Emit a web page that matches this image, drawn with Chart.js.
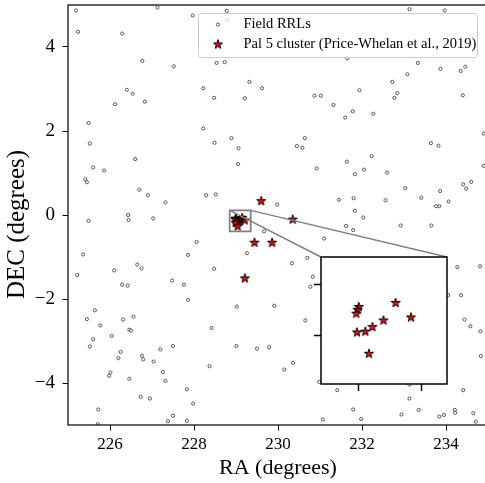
<!DOCTYPE html>
<html>
<head>
<meta charset="utf-8">
<script src="https://cdn.jsdelivr.net/npm/chart.js@4.4.1/dist/chart.umd.min.js"></script>
<style>
  html, body { margin: 0; padding: 0; background: #fff; overflow: hidden; }
  #wrap { position: relative; width: 488px; height: 483px; }
  #main { position: absolute; left: 0; top: 0; }
  #inset { position: absolute; left: 309px; top: 255px; }
</style>
</head>
<body>
<div id="wrap">
  <canvas id="main" width="488" height="483"></canvas>
  <canvas id="inset" width="140" height="141"></canvas>
</div>
<script>
// field RR Lyrae
const fieldRA = [
  225.19, 227.13, 225.24, 226.29, 226.77, 227.52, 226.40, 226.54, 226.12, 226.83, 225.49,
  227.97, 228.78, 228.79, 228.54, 228.73, 229.32, 228.22, 229.62, 228.48, 229.21, 230.87, 231.02, 231.32, 228.22, 228.89, 230.64,
  233.13, 233.97, 231.65, 233.33, 233.87, 234.35, 234.46, 233.08, 232.72, 231.94, 232.84, 232.77, 234.40, 231.78, 231.60, 232.27, 234.90,
  225.52, 226.60, 225.60, 225.86, 225.41, 225.45, 226.70, 226.90, 227.32, 226.43, 226.44, 225.49, 227.03, 225.36, 227.86, 226.65, 226.75, 226.10, 225.22, 227.48,
  228.49, 229.06, 230.45, 230.58, 229.05, 230.92, 228.29, 228.52, 229.98, 231.45, 229.67, 228.06, 231.10, 229.26, 230.70, 230.33, 228.48, 230.83,
  233.64, 233.82, 232.23, 231.64, 232.05, 231.83, 232.60, 234.90, 234.41, 234.60, 234.48, 233.03, 233.86, 233.41, 231.80, 232.56, 234.06, 233.76, 233.84, 231.83, 232.03, 232.92, 233.65, 231.62, 231.79, 234.27, 234.81,
  226.29, 226.42, 227.76, 227.86, 225.64, 225.45, 226.56, 226.31, 225.77, 226.46, 226.50, 226.04, 225.60, 225.52, 227.50, 227.20, 226.25, 226.76, 226.79, 226.20, 227.04, 227.26, 226.01, 225.98, 226.46, 227.32, 227.83, 226.73, 226.95, 225.72, 227.50, 227.38, 227.83, 225.71,
  230.77, 229.02, 229.91, 230.65, 228.42, 229.01, 229.50, 229.79, 230.36, 230.15, 228.37, 227.98, 230.98, 231.41, 231.07,
  234.05, 234.36, 234.44, 234.58, 234.82, 234.83, 234.41, 233.13, 231.79, 233.35, 232.94, 231.98, 233.84, 233.95, 234.21, 234.22, 234.65, 234.71, 233.13
];
const fieldDEC = [
  4.87, 4.94, 4.36, 4.32, 3.67, 3.54, 2.98, 2.89, 2.64, 2.70, 2.19,
  4.75, 4.86, 4.64, 3.62, 3.64, 3.17, 3.02, 3.02, 2.79, 2.78, 2.84, 2.84, 2.62, 2.06, 1.83, 1.83,
  4.90, 4.87, 3.73, 3.62, 3.48, 3.43, 3.53, 3.35, 3.17, 2.97, 2.90, 2.79, 2.85, 2.47, 2.32, 2.41, 1.94,
  1.70, 1.33, 1.13, 1.06, 0.85, 0.78, 0.60, 0.47, 0.30, 0.00, -0.12, -0.14, -0.08, -0.94, -0.95, -1.18, -1.27, -1.32, -1.43, -1.56,
  1.72, 1.59, 1.64, 1.60, 1.21, 1.11, 0.47, 0.49, 0.25, 0.36, -0.39, -0.64, -0.56, -0.91, -1.02, -1.15, -1.28, -1.47,
  1.71, 1.65, 1.40, 1.27, 1.08, 0.97, 1.01, 1.17, 0.73, 0.79, 0.63, 0.64, 0.57, 0.41, 0.40, 0.35, 0.32, 0.21, 0.21, 0.10, -0.06, -0.25, -0.25, -0.26, -0.36, -1.24, -1.22,
  -1.66, -1.68, -1.66, -2.02, -2.27, -2.48, -2.42, -2.49, -2.63, -2.73, -2.75, -2.88, -2.96, -3.13, -3.12, -3.20, -3.26, -3.35, -3.44, -3.41, -3.49, -3.74, -3.75, -3.83, -3.90, -3.95, -4.15, -4.33, -4.37, -4.63, -4.78, -4.91, -4.90, -4.98,
  -1.71, -2.18, -2.16, -2.51, -2.69, -3.12, -3.18, -3.15, -3.52, -3.68, -3.60, -4.49, -3.97, -4.17, -4.87,
  -1.91, -1.91, -2.49, -2.65, -2.77, -3.36, -4.17, -4.37, -4.63, -4.64, -4.75, -4.86, -4.80, -4.76, -4.64, -4.71, -4.72, -4.92, -4.04
];

// Pal 5 members
const pal5RA = [229.60, 230.35, 229.44, 229.86, 229.21,
  229.000, 228.995, 228.990, 229.146, 229.207, 229.098, 229.054, 229.026, 228.993, 229.040];
const pal5DEC = [0.33, -0.11, -0.66, -0.66, -1.51,
  -0.087, -0.098, -0.113, -0.071, -0.128, -0.140, -0.166, -0.184, -0.187, -0.271];

const seriesNames = ['Field RRLs', 'Pal 5 cluster (Price-Whelan et al., 2019)'];
const xTicks = [226, 228, 230, 232, 234];
const yTicks = [-4, -2, 0, 2, 4];
const zoomRA = [228.85, 229.35];
const zoomDEC = [-0.39, 0.11];
const insetXTicks = [229.0, 229.25];
const insetYTicks = [-0.2, 0.0];

const serif = "'Liberation Serif', 'Times New Roman', serif";
Chart.defaults.font.family = serif;
Chart.defaults.color = '#000';

const toPts = (xs, ys) => xs.map((x, i) => ({ x: x, y: ys[i] }));
const minus = v => String(v).replace('-', '\u2212');

function makeStar(r) {
  const s = Math.ceil(2 * r + 4);
  const c = document.createElement('canvas');
  c.width = s; c.height = s;
  const g = c.getContext('2d');
  const cx = s / 2, cy = s / 2;
  g.beginPath();
  for (let i = 0; i < 10; i++) {
    const rad = i % 2 === 0 ? r : r * 0.382;
    const a = -Math.PI / 2 + i * Math.PI / 5;
    g.lineTo(cx + rad * Math.cos(a), cy + rad * Math.sin(a));
  }
  g.closePath();
  g.fillStyle = '#ff0000';
  g.fill();
  g.lineWidth = 1;
  g.strokeStyle = '#000';
  g.stroke();
  return c;
}
const starImg = makeStar(4.8);

function datasets() {
  return [
    { label: seriesNames[1], data: toPts(pal5RA, pal5DEC), pointStyle: starImg, pointRadius: 5, clip: 0 },
    { label: seriesNames[0], data: toPts(fieldRA, fieldDEC), pointStyle: 'circle', pointRadius: 1.6,
      borderWidth: 0.8, borderColor: '#333', backgroundColor: '#fff', clip: 0 }
  ];
}

const frame = (color, width) => ({
  id: 'frame',
  afterDraw(chart) {
    const a = chart.chartArea, ctx = chart.ctx;
    ctx.save();
    ctx.strokeStyle = color;
    ctx.lineWidth = width;
    ctx.strokeRect(a.left, a.top, a.right - a.left, a.bottom - a.top);
    ctx.restore();
  }
});

// inset axes
const insetChart = new Chart(document.getElementById('inset'), {
  type: 'scatter',
  data: { datasets: datasets() },
  options: {
    responsive: false, animation: false, events: [],
    layout: { autoPadding: false, padding: { top: 2, right: 2, left: 0, bottom: 0 } },
    plugins: { legend: { display: false }, tooltip: { enabled: false } },
    scales: {
      x: {
        type: 'linear', min: zoomRA[0], max: zoomRA[1],
        afterBuildTicks: s => { s.ticks = insetXTicks.map(v => ({ value: v })); },
        afterFit: s => { s.height = 12; s.paddingLeft = 0; s.paddingRight = 0; },
        ticks: { callback: () => '' },
        grid: { drawOnChartArea: false, tickLength: 7, tickWidth: 1.5, tickColor: '#000' },
        border: { display: false }
      },
      y: {
        type: 'linear', min: zoomDEC[0], max: zoomDEC[1],
        afterBuildTicks: s => { s.ticks = insetYTicks.map(v => ({ value: v })); },
        afterFit: s => { s.width = 12; s.paddingTop = 0; s.paddingBottom = 0; },
        ticks: { callback: () => '' },
        grid: { drawOnChartArea: false, tickLength: 7, tickWidth: 1.5, tickColor: '#000' },
        border: { display: false }
      }
    }
  },
  plugins: [{
    id: 'whiteBg',
    beforeDraw(chart) {
      const a = chart.chartArea;
      chart.ctx.save();
      chart.ctx.fillStyle = '#fff';
      chart.ctx.fillRect(a.left, a.top, a.right - a.left, a.bottom - a.top);
      chart.ctx.restore();
    }
  }, frame('#000', 1.5)]
});

const zoomMarks = {
  id: 'zoomMarks',
  afterDatasetsDraw(chart) {
    const x = chart.scales.x, y = chart.scales.y, ctx = chart.ctx;
    const l = x.getPixelForValue(zoomRA[0]), r = x.getPixelForValue(zoomRA[1]);
    const t = y.getPixelForValue(zoomDEC[1]), b = y.getPixelForValue(zoomDEC[0]);
    const cv = insetChart.canvas, ia = insetChart.chartArea;
    const il = cv.offsetLeft + ia.left, ir = cv.offsetLeft + ia.right, it = cv.offsetTop + ia.top;
    ctx.save();
    ctx.strokeStyle = '#808080';
    ctx.lineWidth = 1.5;
    ctx.beginPath();
    ctx.moveTo(l, t); ctx.lineTo(il, it);
    ctx.moveTo(r, t); ctx.lineTo(ir, it);
    ctx.stroke();
    ctx.lineWidth = 1.8;
    ctx.strokeRect(l, t, r - l, b - t);
    ctx.restore();
  }
};

// y axis title, drawn by hand because it sits a little below the axis centre
const yTitle = {
  id: 'yTitle',
  afterDraw(chart) {
    const ctx = chart.ctx;
    ctx.save();
    ctx.translate(17.5, 224.5);
    ctx.rotate(-Math.PI / 2);
    ctx.font = '25px ' + serif;
    ctx.fillStyle = '#000';
    ctx.textAlign = 'center';
    ctx.textBaseline = 'middle';
    ctx.fillText('DEC (degrees)', 0, 0);
    ctx.restore();
  }
};

const boxLegend = {
  id: 'boxLegend',
  afterDraw(chart) {
    const a = chart.chartArea, ctx = chart.ctx;
    const x0 = a.right - 289.5, y0 = a.top + 8.5, w = 279, h = 44;
    ctx.save();
    ctx.beginPath();
    ctx.roundRect(x0, y0, w, h, 3);
    ctx.fillStyle = 'rgba(255,255,255,0.8)';
    ctx.fill();
    ctx.strokeStyle = '#cccccc';
    ctx.lineWidth = 1;
    ctx.stroke();
    const mx = x0 + 19.5;
    ctx.beginPath();
    ctx.arc(mx, y0 + 11, 1.6, 0, Math.PI * 2);
    ctx.fillStyle = '#fff';
    ctx.fill();
    ctx.strokeStyle = '#333';
    ctx.lineWidth = 0.8;
    ctx.stroke();
    ctx.drawImage(starImg, mx - starImg.width / 2, y0 + 31 - starImg.height / 2);
    ctx.fillStyle = '#000';
    ctx.font = '14.5px ' + serif;
    ctx.textBaseline = 'middle';
    ctx.textAlign = 'left';
    ctx.fillText(seriesNames[0], x0 + 45, y0 + 10.5);
    ctx.fillText(seriesNames[1], x0 + 45, y0 + 30.5);
    ctx.restore();
  }
};

new Chart(document.getElementById('main'), {
  type: 'scatter',
  data: { datasets: datasets() },
  options: {
    responsive: false, animation: false, events: [],
    layout: { autoPadding: false, padding: { top: 5, right: 0, left: 0, bottom: 0 } },
    plugins: { legend: { display: false }, tooltip: { enabled: false } },
    scales: {
      x: {
        type: 'linear', min: 225, max: 235,
        afterBuildTicks: s => { s.ticks = xTicks.map(v => ({ value: v })); },
        afterFit: s => { s.height = 58; s.paddingLeft = 0; s.paddingRight = 0; },
        ticks: { font: { size: 17 }, padding: 4, callback: v => minus(v) },
        grid: { drawOnChartArea: false, tickLength: 5.5, tickWidth: 1, tickColor: '#000' },
        border: { display: false },
        title: { display: true, text: 'RA (degrees)', font: { size: 22 }, padding: { top: 0, bottom: 2 } }
      },
      y: {
        type: 'linear', min: -5, max: 5,
        afterBuildTicks: s => { s.ticks = yTicks.map(v => ({ value: v })); },
        afterFit: s => { s.width = 68; s.paddingTop = 0; s.paddingBottom = 0; },
        ticks: { font: { size: 19 }, padding: 7.5, callback: v => minus(v) },
        grid: { drawOnChartArea: false, tickLength: 5.5, tickWidth: 1, tickColor: '#000' },
        border: { display: false }
      }
    }
  },
  plugins: [zoomMarks, frame('#000', 1.2), boxLegend, yTitle]
});
</script>
</body>
</html>
